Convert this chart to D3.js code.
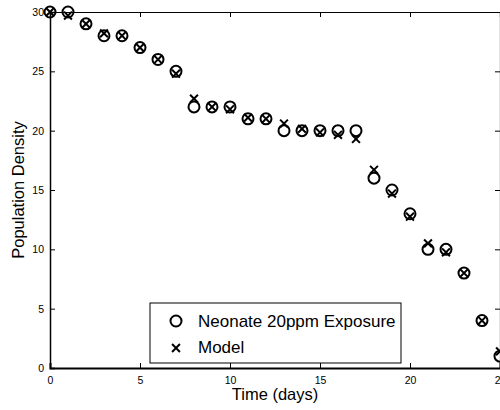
<!DOCTYPE html>
<html>
<head>
<meta charset="utf-8">
<script src="https://cdn.jsdelivr.net/npm/d3@7"></script>
<style>
  body { margin: 0; background: #fff; }
  svg { display: block; font-family: "Liberation Sans", Arial, sans-serif; }
</style>
</head>
<body>
<div id="chart"></div>
<script>
// данные с картинки
const days = [0, 1, 2, 3, 4, 5, 6, 7, 8, 9, 10, 11, 12, 13, 14, 15, 16, 17, 18, 19, 20, 21, 22, 23, 24, 25];
const observed = [30, 30, 29, 28, 28, 27, 26, 25, 22, 22, 22, 21, 21, 20, 20, 20, 20, 20, 16, 15, 13, 10, 10, 8, 4, 1];
const model = [30, 29.7, 29, 28.2, 28, 27, 26, 24.8, 22.7, 22, 21.8, 21.1, 21, 20.6, 20.15, 19.85, 19.65, 19.3, 16.7, 14.7, 12.75, 10.5, 9.75, 8, 4, 1.4];
const xTicks = [0, 5, 10, 15, 20, 25];
const yTicks = [0, 5, 10, 15, 20, 25, 30];
const legendLabels = ['Neonate 20ppm Exposure', 'Model'];

const width = 500;
const height = 410;
const margin = { top: 12, right: 0, bottom: 42, left: 50 };

const svg = d3.select('#chart')
    .append('svg')
    .attr('width', width)
    .attr('height', height);

const x = d3.scaleLinear().domain([0, 25]).range([margin.left, width - margin.right]);
const y = d3.scaleLinear().domain([0, 30]).range([height - margin.bottom, margin.top]);

// оси
const xAxis = svg.append('g')
    .attr('transform', `translate(0,${y(0)})`)
    .call(d3.axisBottom(x).tickValues(xTicks).tickSize(-5).tickPadding(9));
const yAxis = svg.append('g')
    .attr('transform', `translate(${x(0)},0)`)
    .call(d3.axisLeft(y).tickValues(yTicks).tickSize(-5).tickPadding(6));
svg.append('g')
    .attr('transform', `translate(0,${y(30)})`)
    .call(d3.axisTop(x).tickValues(xTicks).tickSize(-5).tickFormat(''));
svg.append('g')
    .attr('transform', `translate(${x(25)},0)`)
    .call(d3.axisRight(y).tickValues(yTicks).tickSize(-5).tickFormat(''));

svg.selectAll('.domain').attr('stroke', '#000').attr('stroke-width', 1.2);
svg.selectAll('.tick line').attr('stroke', '#000');
svg.selectAll('.tick text').attr('font-size', 10.5).attr('fill', '#000')
    .attr('font-family', '"Liberation Sans", Arial, sans-serif');
xAxis.select('.domain').attr('stroke-width', 2);
yAxis.select('.domain').attr('stroke-width', 1.5);

// подписи осей
svg.append('text')
    .attr('x', (x(0) + x(25)) / 2)
    .attr('y', 400)
    .attr('text-anchor', 'middle')
    .attr('font-size', 16.5)
    .text('Time (days)');
svg.append('text')
    .attr('transform', `translate(24,${(y(0) + y(30)) / 2}) rotate(-90)`)
    .attr('text-anchor', 'middle')
    .attr('font-size', 16.5)
    .text('Population Density');

// наблюдения — кружки
svg.append('g').selectAll('circle')
    .data(days)
    .enter().append('circle')
    .attr('cx', d => x(d))
    .attr('cy', (d, i) => y(observed[i]))
    .attr('r', 5.5)
    .attr('fill', 'none')
    .attr('stroke', '#000')
    .attr('stroke-width', 2);

// модель — крестики
const cross = d3.symbol().type(d3.symbolX).size(42);
svg.append('g').selectAll('path')
    .data(days)
    .enter().append('path')
    .attr('d', cross)
    .attr('transform', (d, i) => `translate(${x(d)},${y(model[i])})`)
    .attr('fill', 'none')
    .attr('stroke', '#000')
    .attr('stroke-width', 2);

// легенда
const legend = svg.append('g').attr('transform', 'translate(150,303)');
legend.append('rect')
    .attr('width', 251)
    .attr('height', 60)
    .attr('fill', '#fff')
    .attr('stroke', '#000')
    .attr('stroke-width', 1);
legend.append('circle')
    .attr('cx', 26).attr('cy', 18).attr('r', 5.5)
    .attr('fill', 'none').attr('stroke', '#000').attr('stroke-width', 2);
legend.append('path')
    .attr('d', cross)
    .attr('transform', 'translate(26,45)')
    .attr('fill', 'none').attr('stroke', '#000').attr('stroke-width', 2);
legend.selectAll('text.lbl')
    .data(legendLabels)
    .enter().append('text')
    .attr('class', 'lbl')
    .attr('x', 48)
    .attr('y', (d, i) => 24 + i * 26)
    .attr('font-size', 17)
    .text(d => d);
</script>
</body>
</html>
